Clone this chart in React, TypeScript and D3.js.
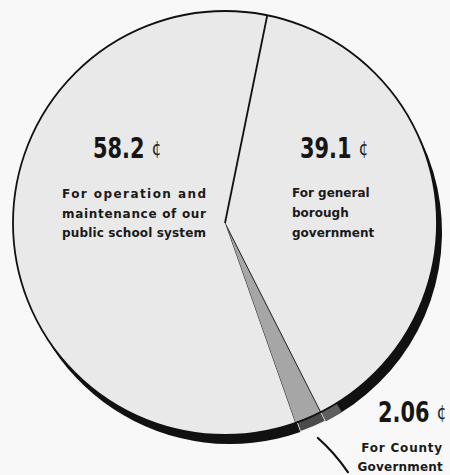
import React from "react";
import * as d3 from "d3";

const categories = ["For general borough government", "For County Government", "For operation and maintenance of our public school system"];
const keys = ["borough", "county", "school"];
const values = [39.1, 2.06, 58.2];
const amountLabels = ["39.1", "2.06", "58.2"];
const startDeg = 11.5;

const W = 450;
const H = 475;
const cx = 225;
const cy = 223;
const R = 212;
const shadowDx = 5;
const shadowDy = 9;

const toRad = (d: number) => (d * Math.PI) / 180;

const bigFont = "'DejaVu Sans Condensed', 'DejaVu Sans', sans-serif";
const smallFont = "'DejaVu Sans', 'Noto Sans', sans-serif";

function Amount({ x, y, label }: { x: number; y: number; label: string }) {
  return (
    <text transform={`translate(${x},${y}) scale(0.8,1)`} fontFamily={bigFont} fontWeight="bold" fontSize={29} fill="#161616">
      {label}
      <tspan dx={9} dy={-3} fontFamily={smallFont} fontWeight="normal" fontSize={19} fill="#222">¢</tspan>
    </text>
  );
}

export default function App() {
  const pie = d3
    .pie<number>()
    .sort(null)
    .value((d) => d)
    .startAngle(toRad(startDeg))
    .endAngle(toRad(startDeg + 360));
  const arcs = pie(values);
  const arc = d3.arc<any>().innerRadius(0).outerRadius(R);

  const fills: Record<string, string> = { borough: "#e9e9e9", county: "#a6a6a6", school: "#e9e9e9" };
  const shadowFills: Record<string, string> = { borough: "#111", county: "#4a4a4a", school: "#111" };

  const county = arcs[1];
  const extraRim = arc({ startAngle: county.startAngle - toRad(5), endAngle: county.startAngle });

  const mid = (county.startAngle + county.endAngle) / 2;
  const lr = R + 12;
  const lx0 = cx + shadowDx + lr * Math.sin(mid);
  const ly0 = cy + shadowDy - lr * Math.cos(mid);
  const leader = d3.path();
  leader.moveTo(lx0, ly0);
  leader.quadraticCurveTo(lx0 + 16, ly0 + 14, lx0 + 30, ly0 + 34);

  const boundary = arcs[0].startAngle;
  const bx = cx + R * Math.sin(boundary);
  const by = cy - R * Math.cos(boundary);

  return (
    <svg width={W} height={H} style={{ position: "fixed", left: 0, top: 0, background: "#f8f8f8" }}>
      <rect x={0} y={0} width={W} height={H} fill="#f8f8f8" />
      <g transform={`translate(${cx + shadowDx},${cy + shadowDy})`}>
        {arcs.map((a, i) => (
          <path key={keys[i]} d={arc(a) as string} fill={shadowFills[keys[i]]} stroke={keys[i] === "county" ? "#f4f4f4" : "none"} strokeWidth={1.5} />
        ))}
        <path d={extraRim as string} fill="#5e5e5e" />
      </g>
      <g transform={`translate(${cx},${cy})`}>
        {arcs.map((a, i) => (
          <path key={keys[i]} d={arc(a) as string} fill={fills[keys[i]]} stroke={keys[i] === "county" ? "#222" : "none"} strokeWidth={1} />
        ))}
        <circle r={R} fill="none" stroke="#111" strokeWidth={1.8} />
      </g>
      <line x1={cx} y1={cy} x2={bx} y2={by} stroke="#111" strokeWidth={1.8} />
      <path d={leader.toString()} fill="none" stroke="#111" strokeWidth={2.2} strokeLinecap="round" />

      {/* School label */}
      <Amount x={93} y={158} label={amountLabels[2]} />
      <g fontFamily={smallFont} fontWeight="bold" fontSize={12} fill="#1a1a1a">
        <text x={62} y={198} textLength={144} lengthAdjust="spacing">For operation and</text>
        <text x={62} y={218} textLength={144} lengthAdjust="spacing">maintenance of our</text>
        <text x={62} y={237} textLength={144} lengthAdjust="spacing">public school system</text>
      </g>

      {/* Borough label */}
      <Amount x={300} y={158} label={amountLabels[0]} />
      <g fontFamily={smallFont} fontWeight="bold" fontSize={12} fill="#1a1a1a">
        <text x={292} y={197}>For general</text>
        <text x={292} y={217}>borough</text>
        <text x={292} y={237}>government</text>
      </g>

      {/* County label */}
      <Amount x={378} y={422} label={amountLabels[1]} />
      <g fontFamily={smallFont} fontWeight="bold" fontSize={12} fill="#1a1a1a" textAnchor="end">
        <text x={443} y={452} letterSpacing={0.8}>For County</text>
        <text x={443} y={471} letterSpacing={0.2}>Government</text>
      </g>
      <title>{categories.join("; ")}</title>
    </svg>
  );
}
